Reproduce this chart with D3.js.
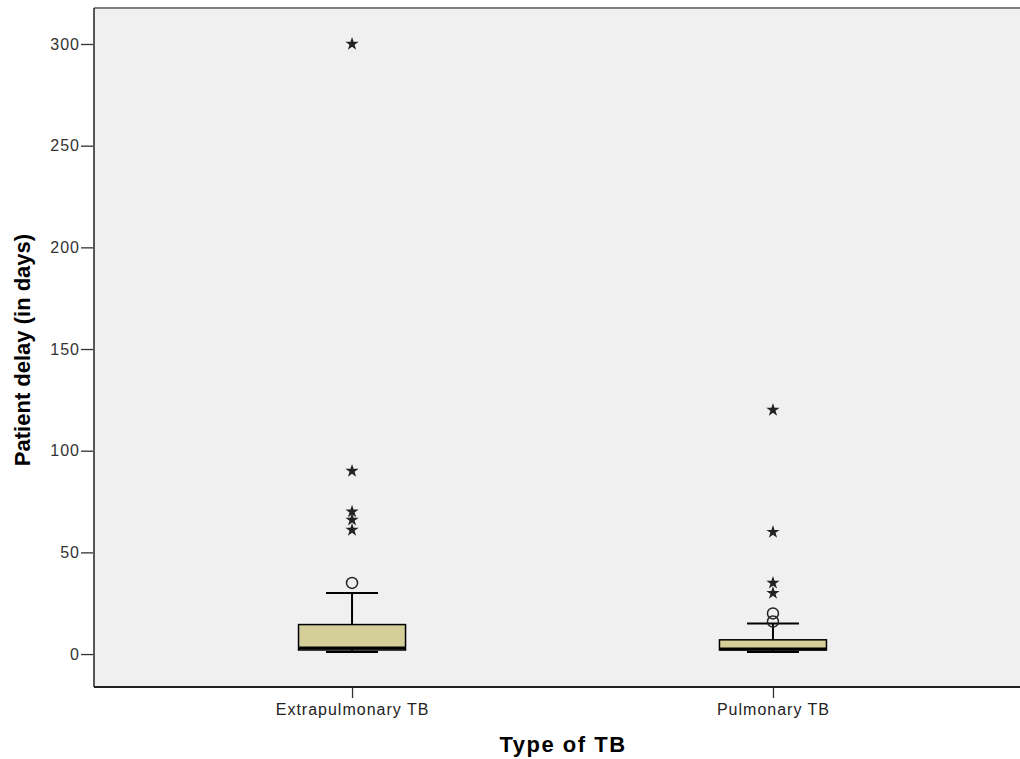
<!DOCTYPE html>
<html>
<head>
<meta charset="utf-8">
<script src="https://cdn.jsdelivr.net/npm/d3@7"></script>
<style>
  body { margin: 0; background: #fff; }
  svg { display: block; }
</style>
</head>
<body>
<svg id="chart" width="1020" height="759"></svg>
<script>
// categories and summary stats
var categories = ["Extrapulmonary TB", "Pulmonary TB"];
var whiskerLow = [1, 1];
var q1 = [2, 2];
var medians = [3, 2.5];
var q3 = [14.5, 7];
var whiskerHigh = [30, 15];
// outliers: circles (mild) and stars (extreme)
var mildOutliers = [[35], [20, 16]];
var extremeOutliers = [[300, 90, 70, 66, 61], [120, 60, 35, 30]];
var yTicks = [0, 50, 100, 150, 200, 250, 300];

(function() {
    var svg = d3.select("#chart");
    var plotLeft = 94, plotTop = 8, plotBottom = 687, plotRight = 1031;

    var y = d3.scaleLinear().domain([-16.2, 317.7]).range([plotBottom, plotTop]);
    var x = d3.scalePoint().domain(categories).range([plotLeft, plotRight]).padding(0.613);
    var boxW = 107, capW = 52;

    // plot background
    svg.append("rect")
        .attr("x", plotLeft).attr("y", plotTop)
        .attr("width", plotRight - plotLeft).attr("height", plotBottom - plotTop)
        .attr("fill", "#f0f0f0");

    // frame: grey top, dark left and bottom
    svg.append("line")
        .attr("x1", plotLeft).attr("x2", plotRight)
        .attr("y1", plotTop).attr("y2", plotTop)
        .attr("stroke", "#808080").attr("stroke-width", 2);
    svg.append("line")
        .attr("x1", plotLeft).attr("x2", plotLeft)
        .attr("y1", plotTop).attr("y2", plotBottom)
        .attr("stroke", "#222").attr("stroke-width", 1.5);
    svg.append("line")
        .attr("x1", plotLeft).attr("x2", plotRight)
        .attr("y1", plotBottom).attr("y2", plotBottom)
        .attr("stroke", "#222").attr("stroke-width", 2);

    // y axis
    var yAxis = d3.axisLeft(y).tickValues(yTicks).tickSize(12).tickPadding(1);
    var gy = svg.append("g").attr("transform", "translate(" + (plotLeft - 1) + ",0)").call(yAxis);
    gy.select(".domain").remove();
    gy.selectAll("line").attr("stroke", "#333").attr("stroke-width", 1.3);
    gy.selectAll("text").attr("font-family", "Arial, 'Liberation Sans', sans-serif")
        .attr("font-size", 16).attr("letter-spacing", 1).attr("fill", "#333");

    // x axis
    var xAxis = d3.axisBottom(x).tickSize(10).tickPadding(6);
    var gx = svg.append("g").attr("transform", "translate(0," + (plotBottom + 1) + ")").call(xAxis);
    gx.select(".domain").remove();
    gx.selectAll("line").attr("stroke", "#333").attr("stroke-width", 1.3);
    gx.selectAll("text").attr("font-family", "Arial, 'Liberation Sans', sans-serif")
        .attr("font-size", 16).attr("letter-spacing", 1).attr("fill", "#222");

    // axis titles
    svg.append("text")
        .attr("x", 563).attr("y", 752)
        .attr("text-anchor", "middle")
        .attr("font-family", "Arial, 'Liberation Sans', sans-serif")
        .attr("font-weight", "bold").attr("font-size", 22).attr("letter-spacing", 1.5)
        .text("Type of TB");

    svg.append("text")
        .attr("transform", "translate(30,350) rotate(-90)")
        .attr("text-anchor", "middle")
        .attr("font-family", "Arial, 'Liberation Sans', sans-serif")
        .attr("font-weight", "bold").attr("font-size", 22)
        .text("Patient delay (in days)");

    // boxes
    var boxes = svg.append("g");
    categories.forEach(function(cat, i) {
        var cx = x(cat);
        var g = boxes.append("g");

        // whiskers
        g.append("line")
            .attr("x1", cx).attr("x2", cx)
            .attr("y1", y(q3[i])).attr("y2", y(whiskerHigh[i]))
            .attr("stroke", "#000").attr("stroke-width", 2);
        g.append("line")
            .attr("x1", cx).attr("x2", cx)
            .attr("y1", y(q1[i])).attr("y2", y(whiskerLow[i]))
            .attr("stroke", "#000").attr("stroke-width", 2);
        [whiskerHigh[i], whiskerLow[i]].forEach(function(v) {
            g.append("line")
                .attr("x1", cx - capW / 2).attr("x2", cx + capW / 2)
                .attr("y1", y(v)).attr("y2", y(v))
                .attr("stroke", "#000").attr("stroke-width", 2);
        });

        g.append("rect")
            .attr("x", cx - boxW / 2).attr("y", y(q3[i]))
            .attr("width", boxW).attr("height", y(q1[i]) - y(q3[i]))
            .attr("fill", "#d4cf99")
            .attr("stroke", "#000").attr("stroke-width", 1.5);

        g.append("line")
            .attr("x1", cx - boxW / 2).attr("x2", cx + boxW / 2)
            .attr("y1", y(medians[i])).attr("y2", y(medians[i]))
            .attr("stroke", "#000").attr("stroke-width", 3);

        // mild outliers as circles
        mildOutliers[i].forEach(function(v) {
            g.append("circle")
                .attr("cx", cx).attr("cy", y(v)).attr("r", 5.5)
                .attr("fill", "none")
                .attr("stroke", "#222").attr("stroke-width", 1.5);
        });

        // extreme outliers as stars
        extremeOutliers[i].forEach(function(v) {
            g.append("path")
                .attr("d", d3.symbol().type(d3.symbolStar).size(55)())
                .attr("transform", "translate(" + cx + "," + y(v) + ")")
                .attr("fill", "#222");
        });
    });
})();
</script>
</body>
</html>
